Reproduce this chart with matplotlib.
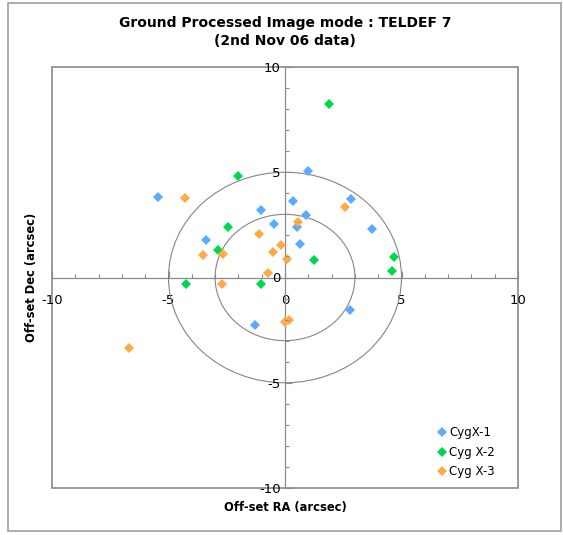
import matplotlib
matplotlib.use("Agg")
import matplotlib.pyplot as plt
from matplotlib.patches import Rectangle, Circle
import numpy as np

# Data
cyg1_x = [-5.44, 0.97, 0.36, 2.82, -1.05, 0.89, -0.47, 0.52, 3.75, -3.40, 0.66, 2.78, -1.29]
cyg1_y = [3.82, 5.06, 3.64, 3.71, 3.20, 2.96, 2.54, 2.38, 2.30, 1.76, 1.58, -1.55, -2.25]
cyg2_x = [1.88, -2.03, -2.46, -2.87, 1.25, 4.67, 4.58, -4.26, -1.05]
cyg2_y = [8.26, 4.83, 2.38, 1.32, 0.84, 0.98, 0.29, -0.32, -0.32]
cyg3_x = [-4.30, 2.56, 0.57, -1.13, -0.17, -0.53, -3.54, -2.65, 0.09, -0.72, -2.69, 0.19, 0.01, -6.69]
cyg3_y = [3.80, 3.33, 2.66, 2.06, 1.54, 1.20, 1.06, 1.14, 0.89, 0.21, -0.29, -2.01, -2.11, -3.36]
series_names = ["CygX-1", "Cyg X-2", "Cyg X-3"]
circle_radii = [3, 5]
major_ticks = [-10, -5, 0, 5, 10]

W, H = 563, 535
fig = plt.figure(figsize=(W / 100, H / 100), dpi=100)

# outer border
fig.patches.append(Rectangle((8 / W, 1 - 531 / H), (561 - 8) / W, (531 - 3) / H,
                             transform=fig.transFigure, fill=False,
                             edgecolor="#a0a0a0", linewidth=1.2))

ax = fig.add_axes([52 / W, 1 - 488 / H, (518 - 52) / W, (488 - 67) / H])
ax.set_xlim(-10, 10)
ax.set_ylim(-10, 10)

colors = ["#5aaaff", "#00d84c", "#ffaa44"]
for xs, ys, c, n in zip([cyg1_x, cyg2_x, cyg3_x], [cyg1_y, cyg2_y, cyg3_y], colors, series_names):
    ax.plot(xs, ys, linestyle="none", marker="D", markersize=5.5, color=c,
            markeredgewidth=0, label=n, zorder=4)

for r in circle_radii:
    ax.add_patch(Circle((0, 0), r, fill=False, edgecolor="#858585", linewidth=0.8, zorder=2))

# spines through origin
for s in ["top", "right"]:
    ax.spines[s].set_visible(False)
ax.spines["left"].set_position(("data", 0))
ax.spines["bottom"].set_position(("data", 0))
for s in ["left", "bottom"]:
    ax.spines[s].set_color("#8a8a8a")
    ax.spines[s].set_linewidth(0.9)

# plot box
ax.add_patch(Rectangle((0, 0), 1, 1, transform=ax.transAxes, fill=False,
                       edgecolor="#8a8a8a", linewidth=1.2, zorder=1, clip_on=False))

ax.set_xticks(major_ticks)
ax.set_yticks(major_ticks)
ax.set_xticks(np.arange(-10, 11, 1), minor=True)
ax.set_yticks(np.arange(-10, 11, 1), minor=True)
ax.set_xticklabels([str(t) for t in major_ticks])
ax.set_yticklabels([str(t) for t in major_ticks])
ax.tick_params(which="both", direction="in", color="#8a8a8a", width=0.8)
ax.tick_params(which="major", length=5)
ax.tick_params(which="minor", length=3)
ax.tick_params(axis="x", which="major", pad=12, labelsize=9.5)
ax.tick_params(axis="y", which="major", pad=3, labelsize=9.5)
ax.yaxis.set_zorder(6)

fig.text(285 / W, 1 - 32 / H, "Ground Processed Image mode : TELDEF 7\n(2nd Nov 06 data)",
         ha="center", va="center", fontsize=10, fontweight="bold", linespacing=1.35)
fig.text(285 / W, 1 - 508 / H, "Off-set RA (arcsec)", ha="center", va="center",
         fontsize=8.3, fontweight="bold")
fig.text(32 / W, 1 - 277 / H, "Off-set Dec (arcsec)", ha="center", va="center",
         fontsize=8.3, fontweight="bold", rotation=90)

ax.legend(loc="lower right", bbox_to_anchor=(0.96, 0.012), frameon=False,
          fontsize=8.5, handlelength=0.5, handletextpad=0.3, labelspacing=0.55,
          borderaxespad=0)

fig.savefig("out.png", dpi=100)
